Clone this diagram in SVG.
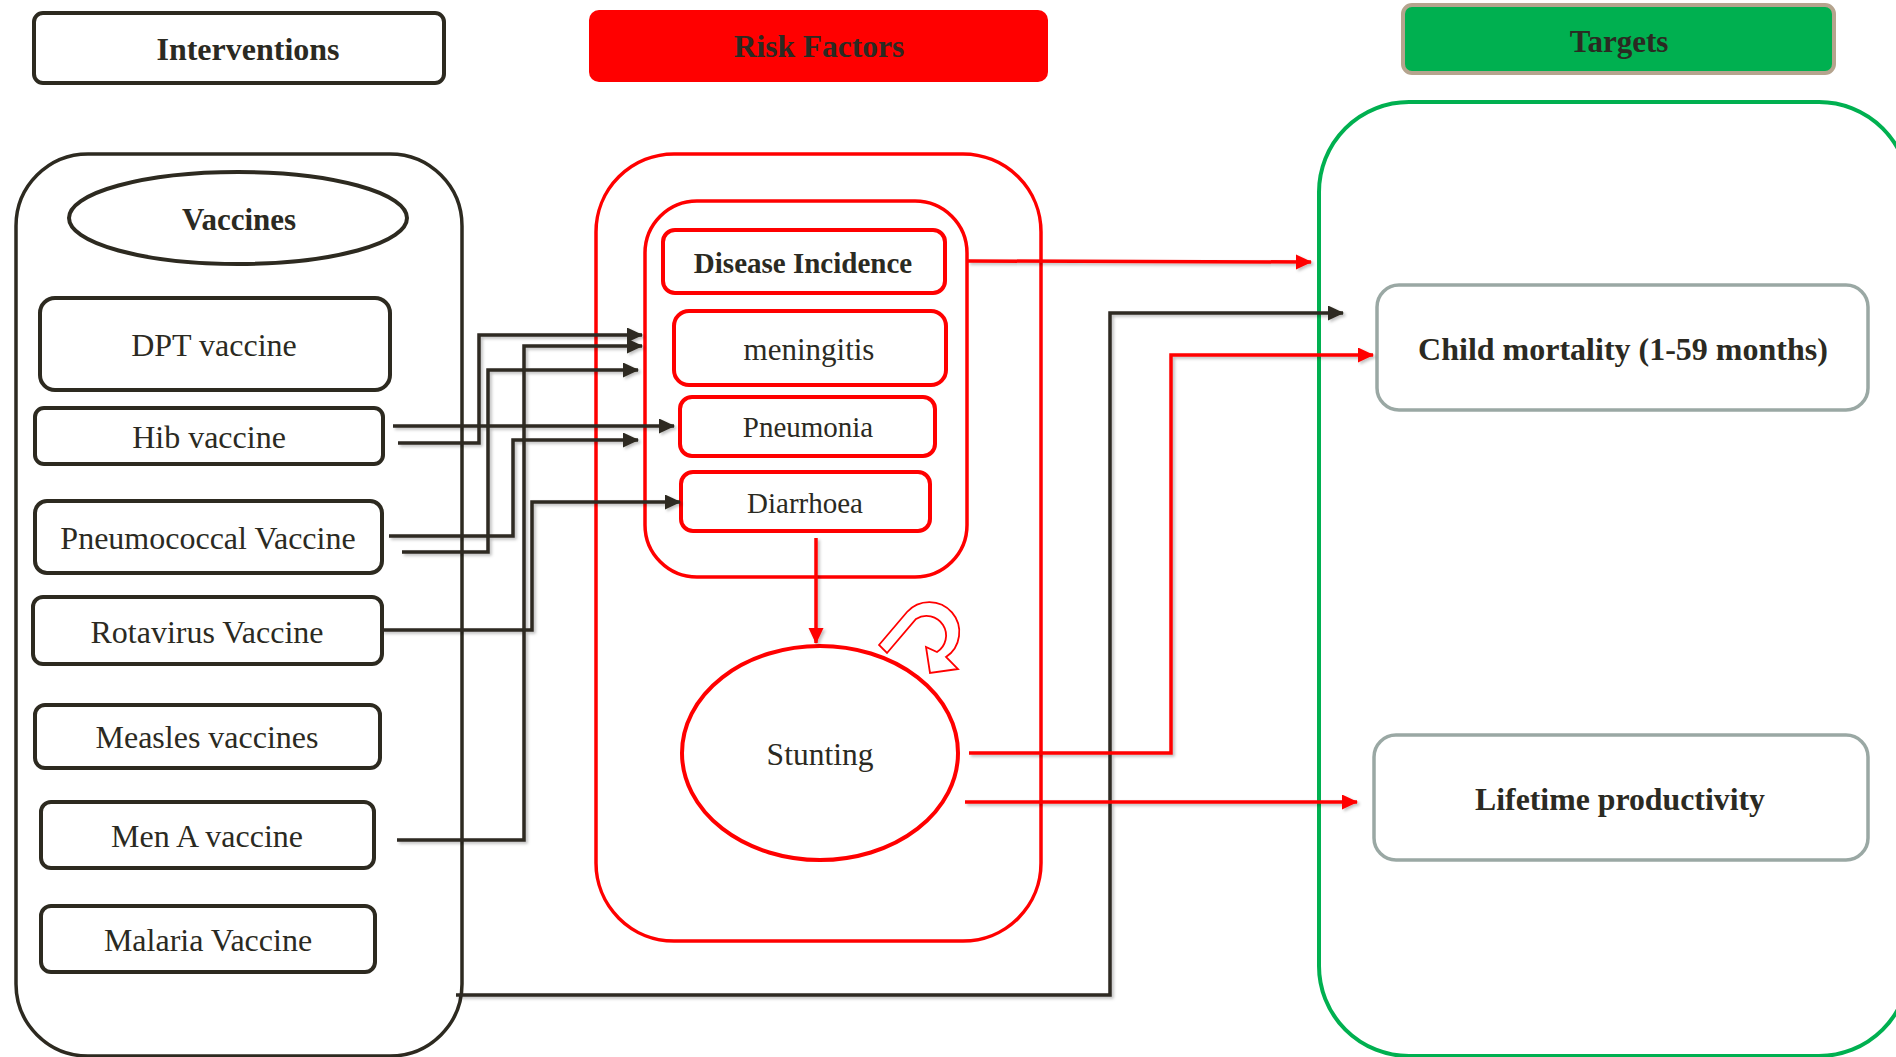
<svg xmlns="http://www.w3.org/2000/svg" width="1896" height="1057" viewBox="0 0 1896 1057">
<defs>
<style>
text{font-family:"Liberation Serif","Times New Roman",serif;fill:#2b2a22;text-anchor:middle}
.b{font-weight:bold}
.dk{fill:#fff;stroke:#2d2a20;stroke-width:4}
.dkc{fill:none;stroke:#2d2a20;stroke-width:3.5}
.rd{fill:#fff;stroke:#ff0000;stroke-width:4}
.rdc{fill:none;stroke:#ff0000;stroke-width:3.5}
.gr{fill:#fff;stroke:#9aa8a4;stroke-width:3.5}
.cb{fill:none;stroke:#2d2a20;stroke-width:3.5;marker-end:url(#ab)}
.cr{fill:none;stroke:#ff0000;stroke-width:3.5;marker-end:url(#ar)}
</style>
<marker id="ab" markerUnits="userSpaceOnUse" markerWidth="16" markerHeight="16" refX="15" refY="7.5" orient="auto"><path d="M0,0 L16,7.5 L0,15 Z" fill="#2d2a20"/></marker>
<marker id="ar" markerUnits="userSpaceOnUse" markerWidth="16" markerHeight="16" refX="15" refY="7.5" orient="auto"><path d="M0,0 L16,7.5 L0,15 Z" fill="#ff0000"/></marker>
<filter id="sh" x="-5%" y="-5%" width="110%" height="110%"><feDropShadow dx="2" dy="2" stdDeviation="1.5" flood-color="#000" flood-opacity="0.25"/></filter>
</defs>
<rect width="1896" height="1057" fill="#fff"/>

<g id="hdr-interventions"><rect class="dk" x="34" y="13" width="410" height="70" rx="9"/><text class="b" x="248" y="60" font-size="32">Interventions</text></g>
<g id="hdr-risk"><rect x="589" y="10" width="459" height="72" rx="10" fill="#ff0000"/><text class="b" x="819" y="57" font-size="31.5">Risk Factors</text></g>
<g id="hdr-targets"><rect x="1403" y="5" width="431" height="68" rx="9" fill="#00b050" stroke="#b5a48e" stroke-width="4"/><text class="b" x="1619" y="52" font-size="31">Targets</text></g>

<g id="vaccines-container"><rect class="dkc" x="16" y="154" width="446" height="902" rx="72"/></g>
<g id="risk-container"><rect class="rdc" x="596" y="154" width="445" height="787" rx="78"/></g>
<g id="disease-container"><rect class="rdc" x="645" y="201" width="322" height="376" rx="52"/></g>
<g id="targets-container"><rect x="1319" y="102" width="590" height="954" rx="90" fill="none" stroke="#00b050" stroke-width="4"/></g>

<g id="vaccines"><ellipse class="dk" cx="238" cy="218" rx="169" ry="46"/><text class="b" x="239" y="230" font-size="31">Vaccines</text></g>
<g id="dpt"><rect class="dk" x="40" y="298" width="350" height="92" rx="15"/><text x="214" y="356" font-size="32">DPT vaccine</text></g>
<g id="hib"><rect class="dk" x="35" y="408" width="348" height="56" rx="9"/><text x="209" y="448" font-size="32">Hib vaccine</text></g>
<g id="pneumococcal"><rect class="dk" x="35" y="501" width="347" height="72" rx="12"/><text x="208" y="549" font-size="32">Pneumococcal Vaccine</text></g>
<g id="rotavirus"><rect class="dk" x="33" y="597" width="349" height="67" rx="10"/><text x="207" y="643" font-size="32">Rotavirus Vaccine</text></g>
<g id="measles"><rect class="dk" x="35" y="705" width="345" height="63" rx="10"/><text x="207" y="748" font-size="32">Measles vaccines</text></g>
<g id="mena"><rect class="dk" x="41" y="802" width="333" height="66" rx="10"/><text x="207" y="847" font-size="32">Men A vaccine</text></g>
<g id="malaria"><rect class="dk" x="41" y="906" width="334" height="66" rx="10"/><text x="208" y="951" font-size="32">Malaria Vaccine</text></g>

<g id="disease-incidence"><rect class="rd" x="663" y="230" width="282" height="63" rx="12"/><text class="b" x="803" y="273" font-size="29">Disease Incidence</text></g>
<g id="meningitis"><rect class="rd" x="674" y="311" width="272" height="74" rx="15"/><text x="809" y="360" font-size="31">meningitis</text></g>
<g id="pneumonia"><rect class="rd" x="680" y="397" width="255" height="59" rx="12"/><text x="808" y="437" font-size="29">Pneumonia</text></g>
<g id="diarrhoea"><rect class="rd" x="681" y="472" width="249" height="59" rx="12"/><text x="805" y="513" font-size="29">Diarrhoea</text></g>
<g id="stunting"><ellipse class="rd" cx="820" cy="753" rx="138" ry="107"/><text x="820" y="765" font-size="31.5">Stunting</text></g>
<g id="loop-arrow"><path d="M879,645 L907,612 A30,30 0 1 1 946,657 L958,669 L930,673 L926,647 L937,652 A18,18 0 1 0 916,619 L887,653 Z" fill="#fff" stroke="#ff0000" stroke-width="1.8"/></g>

<g id="child-mortality"><rect class="gr" x="1377" y="285" width="491" height="125" rx="22"/><text class="b" x="1623" y="360" font-size="32">Child mortality (1-59 months)</text></g>
<g id="lifetime"><rect class="gr" x="1374" y="735" width="494" height="125" rx="22"/><text class="b" x="1620" y="810" font-size="31.8">Lifetime productivity</text></g>

<g id="connectors" filter="url(#sh)">
<path class="cb" d="M393,426 L674,426"/>
<path class="cb" d="M398,443 L479,443 L479,335 L642,335"/>
<path class="cb" d="M389,536 L513,536 L513,440 L638,440"/>
<path class="cb" d="M402,552 L488,552 L488,370 L638,370"/>
<path class="cb" d="M382,630 L532,630 L532,502 L680,502"/>
<path class="cb" d="M397,840 L524,840 L524,346 L642,346"/>
<path class="cb" d="M456,995 L1110,995 L1110,313 L1343,313"/>
<path class="cr" d="M968,261 L1311,262"/>
<path class="cr" d="M816,538 L816,643"/>
<path class="cr" d="M969,753 L1171,753 L1171,355 L1373,355"/>
<path class="cr" d="M965,802 L1357,802"/>
</g>
</svg>
